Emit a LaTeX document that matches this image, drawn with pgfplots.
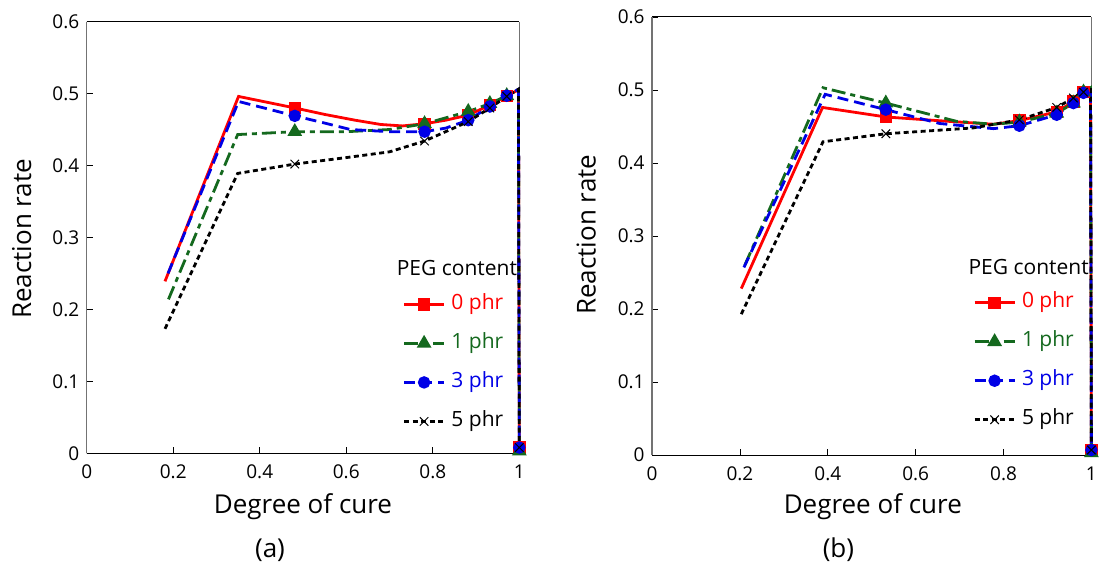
\documentclass[border=0pt]{standalone}
\usepackage{pgfplots}
\pgfplotsset{compat=1.18}
\usepackage{pgfplotstable}
\usepackage{fontspec}
\setmainfont{Open Sans}
\definecolor{cred}{RGB}{255,0,0}
\definecolor{cgreen}{RGB}{20,105,30}
\definecolor{cblue}{RGB}{0,0,230}

% ---------- panel (a) ----------
\pgfplotstableread{
x y
0.181 0.239
0.351 0.496
0.481 0.480
0.55 0.471
0.62 0.463
0.68 0.457
0.73 0.455
0.781 0.458
0.83 0.463
0.882 0.470
0.932 0.484
0.971 0.497
0.998 0.505
1.000 0.008
}\redA
\pgfplotstableread{
x y
0.189 0.214
0.349 0.443
0.481 0.447
0.60 0.447
0.70 0.450
0.781 0.458
0.882 0.475
0.932 0.486
0.971 0.497
0.998 0.505
1.000 0.003
}\greenA
\pgfplotstableread{
x y
0.188 0.250
0.351 0.489
0.481 0.469
0.55 0.459
0.61 0.450
0.70 0.447
0.781 0.447
0.83 0.452
0.882 0.463
0.932 0.482
0.971 0.497
0.998 0.506
1.000 0.008
}\blueA
\pgfplotstableread{
x y
0.181 0.173
0.349 0.389
0.481 0.402
0.60 0.411
0.70 0.419
0.781 0.434
0.882 0.461
0.932 0.480
0.971 0.496
0.998 0.506
1.000 0.008
}\blackA

% ---------- panel (b) ----------
\pgfplotstableread{
x y
0.203 0.228
0.388 0.476
0.532 0.463
0.65 0.458
0.777 0.453
0.836 0.458
0.921 0.470
0.959 0.484
0.982 0.497
0.998 0.502
1.000 0.007
}\redB
\pgfplotstableread{
x y
0.211 0.260
0.389 0.503
0.532 0.482
0.693 0.457
0.777 0.453
0.836 0.456
0.921 0.468
0.959 0.482
0.982 0.497
0.998 0.503
1.000 0.003
}\greenB
\pgfplotstableread{
x y
0.209 0.257
0.394 0.494
0.532 0.473
0.655 0.454
0.777 0.447
0.836 0.451
0.921 0.466
0.959 0.482
0.982 0.496
0.998 0.503
1.000 0.007
}\blueB
\pgfplotstableread{
x y
0.203 0.193
0.389 0.429
0.532 0.440
0.731 0.448
0.836 0.459
0.921 0.476
0.959 0.489
0.982 0.497
0.998 0.503
1.000 0.007
}\blackB

\pgfplotsset{
 panel/.style={
   scale only axis, anchor=south west,
   xmin=0,xmax=1,ymin=0,ymax=0.6,
   xtick={0,0.2,0.4,0.6,0.8,1},
   ytick={0,0.1,0.2,0.3,0.4,0.5,0.6},
   tick align=inside, tick pos=left,
   major tick length=6pt,
   separate axis lines,
   x axis line style={line width=1pt, black},
   y axis line style={line width=1.4pt, black!55},
   every tick/.style={black, line width=0.8pt},
   tick label style={font=\fontsize{19}{19}\selectfont},
   yticklabel style={xshift=-4pt},
   xticklabel style={yshift=-8pt},
   /pgf/number format/assume math mode=true,
   clip=false,
   legend cell align=left,
   legend style={draw=none, fill=none, anchor=north west, inner sep=0pt,
     font=\fontsize{21}{21}\selectfont, row sep=19pt,
     nodes={inner sep=0pt, text height=15pt, text depth=5pt}},
   legend image code/.code={\path (0pt,0pt) (46pt,0pt);\draw[mark repeat=2,mark phase=2,##1] plot coordinates {(0pt,0pt)(20pt,0pt)(40pt,0pt)};},
 },
 sred/.style={cred, line width=2.8pt, solid, mark=square*, mark size=4.8pt, mark options={solid}},
 sgreen/.style={cgreen, line width=2.8pt, dash pattern=on 14pt off 5pt on 5pt off 5pt, mark=triangle*, mark size=5.8pt, mark options={solid}},
 sblue/.style={cblue, line width=2.8pt, dash pattern=on 11pt off 6pt, mark=*, mark size=4.8pt, mark options={solid}},
 sblack/.style={black, line width=2.8pt, dash pattern=on 5pt off 3.5pt, mark=x, mark size=6pt, mark options={solid, line width=1pt}},
}

\begin{document}
\begin{tikzpicture}
\useasboundingbox (0pt,0pt) rectangle (1100pt,-565pt);
% ---------- (a) ----------
\begin{axis}[panel, at={(86.7pt,-453.3pt)}, width=432.6pt, height=431.7pt,
  legend style={at={(0.730,0.3685)}}]
\addplot[sred, forget plot, mark indices={3,8,10,11,12,14}] table {\redA};
\addplot[sgreen, forget plot, mark indices={3,6,7,8,9,11}] table {\greenA};
\addplot[sblue, forget plot, mark indices={3,7,9,10,11,13}] table {\blueA};
\addplot[sblack, forget plot, mark indices={3,6,7,8,9,11}] table {\blackA};
\addlegendimage{sred}\addlegendentry{\textcolor{cred}{0 phr}}
\addlegendimage{sgreen}\addlegendentry{\textcolor{cgreen}{1 phr}}
\addlegendimage{sblue}\addlegendentry{\textcolor{cblue}{3 phr}}
\addlegendimage{sblack}\addlegendentry{5 phr}
\end{axis}
% ---------- (b) ----------
\begin{axis}[panel, at={(652.1pt,-455.1pt)}, width=439.3pt, height=438.2pt,
  legend style={at={(0.7305,0.371)}}]
\addplot[sred, forget plot, mark indices={3,6,7,8,9,11}] table {\redB};
\addplot[sgreen, forget plot, mark indices={3,6,7,8,9,11}] table {\greenB};
\addplot[sblue, forget plot, mark indices={3,6,7,8,9,11}] table {\blueB};
\addplot[sblack, forget plot, mark indices={3,5,6,7,8,10}] table {\blackB};
\addlegendimage{sred}\addlegendentry{\textcolor{cred}{0 phr}}
\addlegendimage{sgreen}\addlegendentry{\textcolor{cgreen}{1 phr}}
\addlegendimage{sblue}\addlegendentry{\textcolor{cblue}{3 phr}}
\addlegendimage{sblack}\addlegendentry{5 phr}
\end{axis}
% ---------- texts ----------
\node[anchor=west, font=\fontsize{21}{21}\selectfont] at (393.3pt,-268.3pt) {PEG content};
\node[anchor=west, font=\fontsize{21}{21}\selectfont] at (965pt,-266.7pt) {PEG content};
\node[rotate=90, font=\fontsize{26}{26}\selectfont] at (21.8pt,-238.8pt) {Reaction rate};
\node[rotate=90, font=\fontsize{26}{26}\selectfont] at (586.1pt,-234.7pt) {Reaction rate};
\node[anchor=base, font=\fontsize{26}{26}\selectfont] at (303pt,-513.5pt) {Degree of cure};
\node[anchor=base, font=\fontsize{26}{26}\selectfont] at (872.8pt,-513.5pt) {Degree of cure};
\node[font=\fontsize{26}{26}\selectfont] at (270pt,-550pt) {(a)};
\node[font=\fontsize{26}{26}\selectfont] at (838.4pt,-550pt) {(b)};
\end{tikzpicture}
\end{document}
